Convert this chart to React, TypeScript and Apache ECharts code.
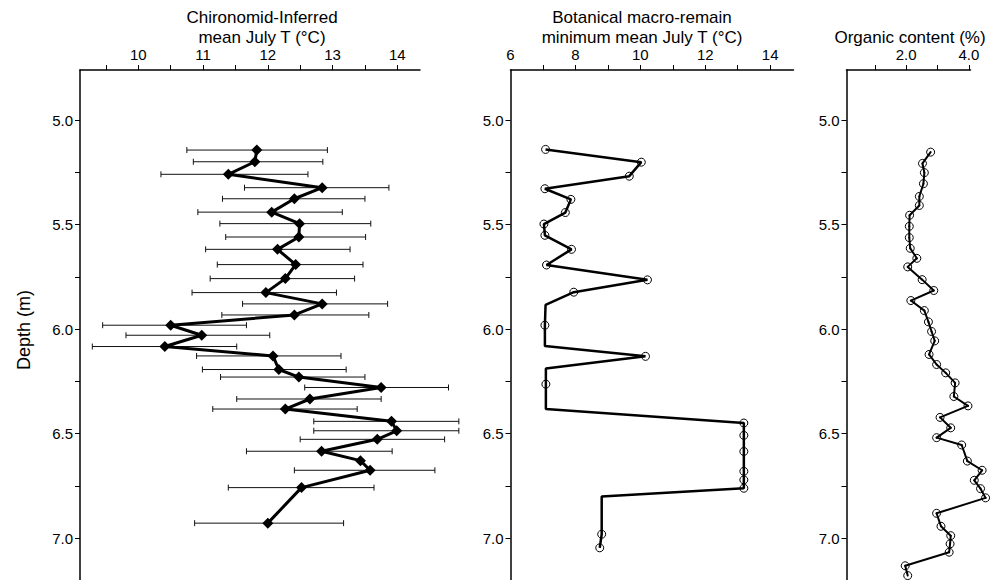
import React, { useEffect, useRef } from 'react';
import * as echarts from 'echarts';

// ---- Depth axis ----
const depthMinorTicks = [5.0, 5.25, 5.5, 5.75, 6.0, 6.25, 6.5, 6.75, 7.0];
const depthLabels = [5.0, 5.5, 6.0, 6.5, 7.0];

// ---- Panel 1: Chironomid-inferred mean July T ----
const chiroTicks = [9.5, 10, 10.5, 11, 11.5, 12, 12.5, 13, 13.5, 14];
const chiroLabels = [10, 11, 12, 13, 14];
const chiroDepth = [5.143, 5.199, 5.259, 5.323, 5.376, 5.44, 5.495, 5.559, 5.618, 5.691, 5.758, 5.825, 5.879, 5.932, 5.981, 6.029, 6.083, 6.128, 6.193, 6.229, 6.279, 6.334, 6.382, 6.441, 6.486, 6.527, 6.584, 6.629, 6.675, 6.758, 6.928];
const chiroTemp = [11.83, 11.8, 11.39, 12.84, 12.41, 12.06, 12.49, 12.48, 12.15, 12.43, 12.27, 11.97, 12.84, 12.41, 10.5, 10.98, 10.41, 12.08, 12.17, 12.48, 13.75, 12.65, 12.27, 13.91, 13.99, 13.69, 12.83, 13.43, 13.58, 12.52, 12.0];
const chiroLow = [10.75, 10.85, 10.35, 11.64, 11.3, 10.92, 11.26, 11.35, 11.04, 11.22, 11.11, 10.83, 11.61, 11.29, 9.45, 9.81, 9.29, 10.9, 10.99, 11.27, 12.57, 11.52, 11.15, 12.71, 12.71, 12.5, 11.67, null, 12.41, 11.39, 10.87];
const chiroHigh = [12.92, 12.85, 12.62, 13.87, 13.5, 13.15, 13.59, 13.51, 13.27, 13.47, 13.34, 13.06, 13.85, 13.56, 11.67, 12.03, 11.52, 13.13, 13.21, 13.5, 14.79, 13.75, 13.38, 14.95, 14.95, 14.73, 13.92, null, 14.58, 13.64, 13.17];

// ---- Panel 2: Botanical macro-remain minimum mean July T ----
const botTicks = [7, 8, 9, 10, 11, 12, 13, 14];
const botLabels = [6, 8, 10, 12, 14];
const botDepth = [5.14, 5.201, 5.268, 5.328, 5.379, 5.442, 5.497, 5.551, 5.618, 5.693, 5.764, 5.823, 5.884, 5.981, 6.08, 6.13, 6.188, 6.263, 6.382, 6.449, 6.508, 6.585, 6.68, 6.721, 6.761, 6.8, 6.981, 7.046];
const botTemp = [7.08, 10.03, 9.66, 7.06, 7.86, 7.69, 7.03, 7.06, 7.88, 7.11, 10.22, 7.95, 7.08, 7.06, 7.06, 10.16, 7.09, 7.09, 7.09, 13.19, 13.19, 13.19, 13.19, 13.19, 13.19, 8.81, 8.81, 8.75];
const botSampled = [1, 1, 1, 1, 1, 1, 1, 1, 1, 1, 1, 1, 0, 1, 0, 1, 0, 1, 0, 1, 1, 1, 1, 1, 1, 0, 1, 1];

// ---- Panel 3: Organic content ----
const orgTicks = [1, 2, 3, 4];
const orgLabels = [2, 4];
const orgDepth = [5.153, 5.207, 5.251, 5.304, 5.365, 5.408, 5.455, 5.508, 5.562, 5.613, 5.661, 5.702, 5.763, 5.815, 5.863, 5.911, 5.965, 6.011, 6.056, 6.121, 6.169, 6.209, 6.257, 6.322, 6.367, 6.422, 6.472, 6.519, 6.554, 6.631, 6.675, 6.723, 6.763, 6.807, 6.881, 6.943, 6.988, 7.027, 7.067, 7.132, 7.179];
const orgValue = [2.78, 2.52, 2.58, 2.55, 2.42, 2.42, 2.11, 2.1, 2.1, 2.13, 2.34, 2.05, 2.51, 2.88, 2.15, 2.58, 2.71, 2.81, 2.91, 2.73, 2.97, 3.26, 3.56, 3.52, 3.97, 3.08, 3.42, 2.97, 3.77, 3.95, 4.42, 4.17, 4.37, 4.53, 2.97, 3.11, 3.42, 3.4, 3.37, 1.97, 2.05];

const FONT = "'Liberation Sans', Arial, sans-serif";

function yAxis(gridIndex: number) {
  return {
    type: 'value',
    gridIndex,
    inverse: true,
    min: 4.76,
    max: 7.2,
    axisLine: { show: true, onZero: false, lineStyle: { color: '#000', width: 1.5 } },
    axisTick: { show: true, length: 5, customValues: depthMinorTicks, lineStyle: { color: '#000', width: 1 } },
    axisLabel: {
      show: true,
      customValues: depthLabels,
      formatter: (v: number) => v.toFixed(1),
      fontSize: 15,
      color: '#000',
      fontFamily: FONT,
      margin: 7,
    },
    splitLine: { show: false },
  };
}

function xAxis(gridIndex: number, min: number, max: number, ticks: number[], labels: number[], fmt: (v: number) => string) {
  return {
    type: 'value',
    gridIndex,
    position: 'top',
    min,
    max,
    axisLine: { show: true, onZero: false, lineStyle: { color: '#000', width: 1.5 } },
    axisTick: { show: true, length: 5, customValues: ticks, lineStyle: { color: '#000', width: 1 } },
    axisLabel: {
      show: true,
      customValues: labels,
      formatter: fmt,
      fontSize: 15,
      color: '#000',
      fontFamily: FONT,
      margin: 8,
    },
    splitLine: { show: false },
  };
}

// custom series drawing a polyline segment by segment, unclipped
function segmentSeries(xi: number, xs: number[], ys: number[], width: number) {
  return {
    type: 'custom',
    xAxisIndex: xi,
    yAxisIndex: xi,
    clip: false,
    encode: { x: [0, 2], y: [1, 3] },
    data: ys.slice(1).map((d, i) => [xs[i], ys[i], xs[i + 1], d]),
    renderItem: (params: any, api: any) => {
      const a = api.coord([api.value(0), api.value(1)]);
      const b = api.coord([api.value(2), api.value(3)]);
      return {
        type: 'line',
        shape: { x1: a[0], y1: a[1], x2: b[0], y2: b[1] },
        style: { stroke: '#000', lineWidth: width, lineCap: 'round' },
      };
    },
    z: 2,
  };
}

export default function App() {
  const ref = useRef<HTMLDivElement>(null);

  useEffect(() => {
    if (!ref.current) return;
    const chart = echarts.init(ref.current, null, { renderer: 'svg' });

    const errData = chiroDepth
      .map((d, i) => (chiroLow[i] == null ? null : [chiroLow[i], chiroHigh[i], d]))
      .filter((r) => r !== null);

    const titleStyle = (text: string) => ({
      text,
      align: 'center',
      verticalAlign: 'middle',
      font: `17px ${FONT}`,
      fill: '#000',
    });

    const option = {
      animation: false,
      backgroundColor: '#fff',
      grid: [
        { left: 80, top: 70, width: 340, height: 510 },
        { left: 510.5, top: 70, width: 283, height: 510 },
        { left: 846.5, top: 70, width: 124, height: 510 },
      ],
      xAxis: [
        xAxis(0, 9.1, 14.35, chiroTicks, chiroLabels, (v: number) => String(v)),
        xAxis(1, 6, 14.72, botTicks, botLabels, (v: number) => String(v)),
        xAxis(2, 0.1, 4.05, orgTicks, orgLabels, (v: number) => v.toFixed(1)),
      ],
      yAxis: [yAxis(0), yAxis(1), yAxis(2)],
      graphic: [
        { type: 'text', x: 262, y: 17, style: titleStyle('Chironomid-Inferred') },
        { type: 'text', x: 262, y: 37, style: titleStyle('mean July T (°C)') },
        { type: 'text', x: 642, y: 17, style: titleStyle('Botanical macro-remain') },
        { type: 'text', x: 642, y: 37, style: titleStyle('minimum mean July T (°C)') },
        { type: 'text', x: 910, y: 37, style: titleStyle('Organic content (%)') },
        { type: 'text', x: 24, y: 330, rotation: Math.PI / 2, style: { ...titleStyle('Depth (m)'), font: `18px ${FONT}` } },
      ],
      series: [
        {
          type: 'custom',
          xAxisIndex: 0,
          yAxisIndex: 0,
          clip: false,
          encode: { x: [0, 1], y: 2 },
          data: errData,
          renderItem: (params: any, api: any) => {
            const d = api.value(2);
            const a = api.coord([api.value(0), d]);
            const b = api.coord([api.value(1), d]);
            const h = 3;
            const st = { stroke: '#111', lineWidth: 1 };
            return {
              type: 'group',
              children: [
                { type: 'line', shape: { x1: a[0], y1: a[1], x2: b[0], y2: b[1] }, style: st },
                { type: 'line', shape: { x1: a[0], y1: a[1] - h, x2: a[0], y2: a[1] + h }, style: st },
                { type: 'line', shape: { x1: b[0], y1: b[1] - h, x2: b[0], y2: b[1] + h }, style: st },
              ],
            };
          },
          z: 1,
        },
        {
          type: 'line',
          xAxisIndex: 0,
          yAxisIndex: 0,
          clip: false,
          data: chiroDepth.map((d, i) => [chiroTemp[i], d]),
          symbol: 'diamond',
          symbolSize: 11,
          showAllSymbol: true,
          lineStyle: { color: '#000', width: 3 },
          itemStyle: { color: '#000' },
          z: 3,
        },
        {
          type: 'line',
          xAxisIndex: 1,
          yAxisIndex: 1,
          clip: false,
          data: botDepth.map((d, i) => ({
            value: [botTemp[i], d],
            symbol: botSampled[i] ? 'circle' : 'none',
          })),
          symbol: 'circle',
          symbolSize: 8,
          showAllSymbol: true,
          lineStyle: { color: '#000', width: 2.5 },
          itemStyle: { color: 'rgba(255,255,255,0)', borderColor: '#000', borderWidth: 1 },
          z: 3,
        },
        segmentSeries(2, orgValue, orgDepth, 2),
        {
          type: 'scatter',
          xAxisIndex: 2,
          yAxisIndex: 2,
          clip: false,
          data: orgDepth.map((d, i) => [orgValue[i], d]),
          symbol: 'circle',
          symbolSize: 8,
          itemStyle: { color: 'rgba(255,255,255,0)', borderColor: '#000', borderWidth: 1, opacity: 1 },
          z: 3,
        },
      ],
    };

    chart.setOption(option as any);
    return () => chart.dispose();
  }, []);

  return (
    <div
      ref={ref}
      style={{ position: 'absolute', left: 0, top: 0, width: 997, height: 580, background: '#fff' }}
    />
  );
}
